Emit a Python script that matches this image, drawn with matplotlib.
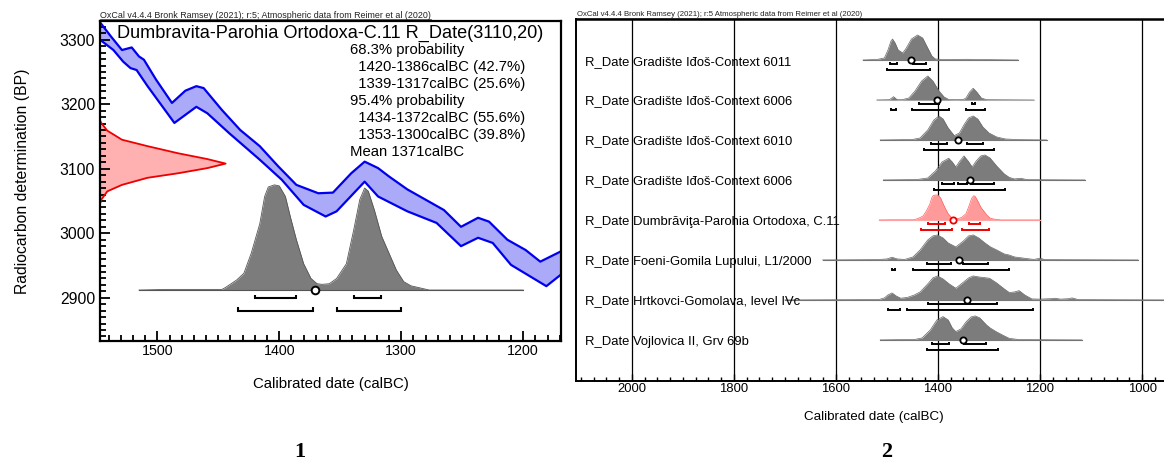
import matplotlib
matplotlib.use("Agg")
import matplotlib.pyplot as plt
from matplotlib.ticker import MultipleLocator
import numpy as np

plt.rcParams['font.family'] = ['Liberation Sans', 'DejaVu Sans']

# ---- panel 1 data : calibration curve band (calBC, BP) ----
curve_up_yr = [1547, 1538, 1529, 1521, 1515, 1511, 1501, 1488, 1477, 1468, 1462, 1447, 1432,
               1416, 1401, 1386, 1368, 1356, 1341, 1330, 1319, 1310, 1295, 1280, 1265, 1251,
               1237, 1228, 1213, 1198, 1186, 1169]
curve_up_bp = [3327, 3305, 3284, 3288, 3274, 3269, 3238, 3202, 3221, 3228, 3225, 3191, 3160,
               3135, 3104, 3075, 3062, 3063, 3093, 3111, 3101, 3088, 3068, 3052, 3036, 3010,
               3024, 3018, 2990, 2974, 2956, 2972]
curve_lo_yr = [1547, 1536, 1528, 1522, 1517, 1508, 1486, 1468, 1459, 1441, 1416, 1398, 1380,
               1362, 1353, 1330, 1319, 1295, 1271, 1251, 1237, 1225, 1210, 1181, 1169]
curve_lo_bp = [3300, 3284, 3266, 3256, 3253, 3228, 3171, 3196, 3186, 3155, 3114, 3083, 3044,
               3026, 3034, 3080, 3057, 3034, 3016, 2980, 2993, 2985, 2951, 2918, 2936]

# radiocarbon measurement (red, BP vs width in years)
meas_bp = [3175, 3171, 3159, 3145, 3135, 3124, 3115, 3108, 3101, 3093, 3086, 3075, 3065, 3052, 3045]
meas_w = [0, 1, 6, 18, 39, 64, 88, 103, 88, 64, 39, 18, 6, 1, 0]

# calibrated distribution (relative probability)
cal_yr = [1515, 1492, 1447, 1444, 1435, 1429, 1423, 1416, 1412, 1409, 1404, 1400, 1395, 1391,
          1386, 1380, 1374, 1369, 1365, 1359, 1353, 1345, 1339, 1334, 1330, 1327, 1322, 1316,
          1310, 1304, 1298, 1292, 1283, 1277, 1200]
cal_prob = [0, 0.006, 0.006, 0.025, 0.095, 0.16, 0.35, 0.63, 0.89, 0.98, 1.0, 0.99, 0.89, 0.70,
            0.48, 0.25, 0.11, 0.06, 0.054, 0.06, 0.11, 0.25, 0.57, 0.86, 0.97, 0.94, 0.76, 0.51,
            0.35, 0.19, 0.08, 0.04, 0.016, 0, 0]
cal_mean = 1371
cal_r68 = [(1420, 1386), (1339, 1317)]
cal_r95 = [(1434, 1372), (1353, 1300)]

prob_lines = ["68.3% probability", "  1420-1386calBC (42.7%)", "  1339-1317calBC (25.6%)",
              "95.4% probability", "  1434-1372calBC (55.6%)", "  1353-1300calBC (39.8%)",
              "Mean 1371calBC"]

# ---- panel 2 data : multiplot ----
labels = ["R_Date Gradište Iđoš-Context 6011",
          "R_Date Gradište Iđoš-Context 6006",
          "R_Date Gradište Iđoš-Context 6010",
          "R_Date Gradište Iđoš-Context 6006",
          "R_Date Dumbrăviţa-Parohia Ortodoxa, C.11",
          "R_Date Foeni-Gomila Lupului, L1/2000",
          "R_Date Hrtkovci-Gomolava, level IVc",
          "R_Date Vojlovica II, Grv 69b"]

row_yr = [
    [1547, 1520, 1505, 1498, 1492, 1489, 1484, 1478, 1469, 1462, 1452, 1440, 1430, 1420, 1412,
     1405, 1390, 1340, 1330, 1243],
    [1520, 1495, 1487, 1480, 1470, 1457, 1445, 1432, 1420, 1410, 1398, 1388, 1379, 1365, 1350,
     1345, 1338, 1331, 1324, 1315, 1305, 1212],
    [1513, 1470, 1450, 1435, 1420, 1408, 1398, 1390, 1380, 1368, 1358, 1348, 1340, 1331, 1322,
     1312, 1300, 1285, 1268, 1240, 1187],
    [1507, 1460, 1440, 1420, 1405, 1392, 1379, 1372, 1365, 1357, 1349, 1341, 1333, 1325, 1316,
     1308, 1298, 1285, 1270, 1260, 1250, 1238, 1225, 1112],
    cal_yr,
    [1626, 1520, 1500, 1490, 1480, 1465, 1449, 1435, 1420, 1410, 1401, 1390, 1380, 1365, 1350,
     1340, 1331, 1320, 1308, 1297, 1285, 1270, 1261, 1250, 1235, 1220, 1212, 1200, 1190, 1008],
    [1700, 1530, 1515, 1505, 1498, 1490, 1482, 1473, 1460, 1446, 1435, 1420, 1410, 1401, 1390,
     1378, 1365, 1352, 1340, 1331, 1320, 1299, 1285, 1270, 1260, 1250, 1241, 1230, 1216, 1200,
     1180, 1171, 1160, 1145, 1137, 1125, 950],
    [1513, 1470, 1445, 1431, 1415, 1402, 1390, 1380, 1372, 1365, 1355, 1345, 1335, 1327, 1318,
     1305, 1297, 1285, 1270, 1260, 1240, 1118],
]
row_h = [
    [0, 0.5, 2, 10, 19, 21, 17, 10, 7, 12, 21, 25, 22, 12, 4, 1, 0.5, 0.7, 0.5, 0],
    [0, 0.3, 3.3, 0.3, 0.3, 2, 9, 19, 24, 19, 9, 3, 0.5, 0.3, 0.5, 2, 8, 11.7, 8, 2, 0.3, 0],
    [0, 0.3, 0.5, 2, 10, 20, 24, 21, 12, 4.3, 7, 16, 22, 24, 21, 13, 7, 3, 1, 0.3, 0],
    [0, 0.3, 0.5, 2, 9, 18, 21.7, 18, 13, 19, 24, 19, 13, 19, 24, 25, 22, 14, 6, 2.5, 1, 1.7,
     0.3, 0],
    [p * 25 for p in cal_prob],
    [0, 0.3, 1, 2.7, 1, 0.5, 3, 10, 20, 24, 25, 22, 17, 13, 19, 24, 25, 22, 17, 13, 10, 6, 5, 3,
     2, 1, 0.5, 1.7, 0.3, 0],
    [0, 0.3, 0.5, 2, 5, 7, 4, 1.7, 2.5, 5, 8, 16, 22, 24, 21, 16, 11.7, 17, 22, 24, 23, 21.7, 17,
     11, 7.3, 8, 9.3, 5, 1, 0.8, 1.2, 1.7, 0.8, 1.2, 2, 0.3, 0],
    [0, 0.3, 0.5, 2, 10, 20, 23.3, 20, 12, 8.3, 11, 18, 23, 24, 22, 15, 11.7, 8, 4, 1.5, 0.3, 0],
]
row_mean = [1453, 1401, 1361, 1338, 1371, 1358, 1343, 1351]
row_r68 = [[(1494, 1481), (1449, 1423)], [(1437, 1398), (1334, 1327)],
           [(1414, 1382), (1343, 1311)], [(1392, 1368), (1361, 1343), (1336, 1291)],
           cal_r68, [(1422, 1375), (1351, 1301)], [(1420, 1284)],
           [(1411, 1379), (1349, 1305)]]
row_r95 = [[(1499, 1415)], [(1492, 1482), (1451, 1379), (1345, 1307)], [(1427, 1291)],
           [(1407, 1269)], cal_r95, [(1490, 1484), (1449, 1260)],
           [(1498, 1474), (1461, 1214)], [(1421, 1282)]]
highlight = 4

W, H = 1164, 463
fig = plt.figure(figsize=(W / 100, H / 100), dpi=100)


def px_box(x0, y0, x1, y1):
    return [x0 / W, 1 - y1 / H, (x1 - x0) / W, (y1 - y0) / H]


def bracket(ax, a, b, y, dy, color, lw):
    ax.plot([a, a, b, b], [y + dy, y, y, y + dy], color=color, lw=lw,
            solid_joinstyle='miter', solid_capstyle='butt')


# ================= panel 1 =================
ax1 = fig.add_axes(px_box(100, 21, 561, 341))
ax1.set_xlim(1547, 1169)
ax1.set_ylim(2833, 3329)

band_x = np.concatenate([curve_up_yr, curve_lo_yr[::-1]])
band_y = np.concatenate([curve_up_bp, curve_lo_bp[::-1]])
ax1.fill(band_x, band_y, color='#aaaaf8', lw=0)
ax1.plot(curve_up_yr, curve_up_bp, color='#0000ee', lw=1.6)
ax1.plot(curve_lo_yr, curve_lo_bp, color='#0000ee', lw=1.6)

x_left = 1547
ax1.fill_betweenx(meas_bp, x_left, x_left - np.array(meas_w), color='#ffb0b0', lw=0)
ax1.plot(x_left - np.array(meas_w), meas_bp, color='#ee0000', lw=1.3)

base, height = 2912, 163
ax1.fill_between(cal_yr, base, base + np.array(cal_prob) * height, color='#7c7c7c', lw=0)
ax1.plot(cal_yr, base + np.array(cal_prob) * height, color='#555555', lw=0.6)
ax1.plot([cal_yr[0], cal_yr[-1]], [base, base], color='#555555', lw=0.8)
for a, b in cal_r68:
    bracket(ax1, a, b, 2900, 5, 'black', 1.5)
for a, b in cal_r95:
    bracket(ax1, a, b, 2880, 6, 'black', 1.5)
ax1.plot([cal_mean], [base], 'o', ms=5.5, mfc='white', mec='black', mew=1.4)

ax1.text(0.037, 0.96, "Dumbravita-Parohia Ortodoxa-C.11 R_Date(3110,20)",
         transform=ax1.transAxes, fontsize=13.1, va='center', ha='left')
for i, line in enumerate(prob_lines):
    ax1.text(0.5427, (341 - 50 - i * 17) / 320, line, transform=ax1.transAxes,
             fontsize=10.7, va='center', ha='left')

ax1.xaxis.set_major_locator(MultipleLocator(100))
ax1.xaxis.set_minor_locator(MultipleLocator(10))
ax1.yaxis.set_major_locator(MultipleLocator(100))
ax1.yaxis.set_minor_locator(MultipleLocator(10))
ax1.tick_params(which='both', direction='in', width=1.3)
ax1.tick_params(which='major', length=7)
ax1.tick_params(which='minor', length=4)
ax1.tick_params(axis='x', labelsize=10.3, pad=2)
ax1.tick_params(axis='y', labelsize=11.3, pad=3.5)
for s in ax1.spines.values():
    s.set_linewidth(1.6)
ax1.set_xlabel("Calibrated date (calBC)", fontsize=10.8, labelpad=14)
ax1.set_ylabel("Radiocarbon determination (BP)", fontsize=11.3, labelpad=21)

# ================= panel 2 =================
ax2 = fig.add_axes(px_box(575.7, 19, 1190, 380.7))
ax2.set_xlim(2110, 906)
ax2.set_ylim(8.02, -1.025)
for g in [2000, 1800, 1600, 1400, 1200, 1000]:
    ax2.axvline(g, color='black', lw=0.9, zorder=0)

unit = 0.625 / 25
for r in range(len(labels)):
    yrs = np.array(row_yr[r])
    hs = np.array(row_h[r]) * unit
    if r == highlight:
        fc, ec, lc, bc = '#ff9a9a', '#ff6060', '#ffb0b0', '#ee0000'
    else:
        fc, ec, lc, bc = '#7c7c7c', '#666666', '#777777', 'black'
    if r == 1:
        lc = '#cccccc'
    ax2.plot([yrs[0], yrs[-1]], [r, r], color=lc, lw=0.8, zorder=1)
    ax2.fill_between(yrs, r, r - hs, color=fc, lw=0, zorder=2)
    ax2.plot(yrs, r - hs, color=ec, lw=0.5, zorder=2)
    for a, b in row_r68[r]:
        bracket(ax2, a, b, r + 0.11, -0.06, bc, 1.4)
    for a, b in row_r95[r]:
        bracket(ax2, a, b, r + 0.25, -0.06, bc, 1.4)
    ax2.plot([row_mean[r]], [r], 'o', ms=4.5, mfc='white', mec=bc, mew=1.3, zorder=4)
    ax2.text(2092, r + 0.115, labels[r], fontsize=9.4, va='baseline', ha='left', zorder=3)

ax2.set_yticks([])
ax2.xaxis.set_major_locator(MultipleLocator(200))
ax2.xaxis.set_minor_locator(MultipleLocator(25))
ax2.tick_params(which='both', direction='in', width=1.0)
ax2.tick_params(which='major', length=5, labelsize=9.4, pad=1.5)
ax2.tick_params(which='minor', length=3)
ax2.spines['right'].set_visible(False)
for s in ['left', 'top', 'bottom']:
    ax2.spines[s].set_linewidth(1.4)
ax2.spines['top'].set_linewidth(1.8)
ax2.set_xlabel("Calibrated date (calBC)", fontsize=9.6, labelpad=12)
ax2.xaxis.label.set_x((874 - 575.7) / (1190 - 575.7))

# small OxCal headers, underlined
hdr1 = fig.text(100 / W, 1 - 15.5 / H, "OxCal v4.4.4 Bronk Ramsey (2021); r:5; Atmospheric data from Reimer et al (2020)",
                fontsize=6.4, va='center', ha='left', color='#222222')
hdr2 = fig.text(577 / W, 1 - 14.5 / H, "OxCal v4.4.4 Bronk Ramsey (2021); r:5 Atmospheric data from Reimer et al (2020)",
                fontsize=5.6, va='center', ha='left', color='#222222')
fig.canvas.draw()
rend = fig.canvas.get_renderer()
for t, yline in [(hdr1, 19.2), (hdr2, 18.2)]:
    bb = t.get_window_extent(rend)
    fig.add_artist(plt.Line2D([bb.x0 / W, bb.x1 / W], [1 - yline / H, 1 - yline / H],
                              color='#222222', lw=0.5, transform=fig.transFigure))

fig.text(300 / W, 1 - 452 / H, "1", fontsize=16, fontweight='bold',
         family='Liberation Serif', ha='center', va='center')
fig.text(887 / W, 1 - 452 / H, "2", fontsize=16, fontweight='bold',
         family='Liberation Serif', ha='center', va='center')

fig.savefig("out.png", dpi=100)
